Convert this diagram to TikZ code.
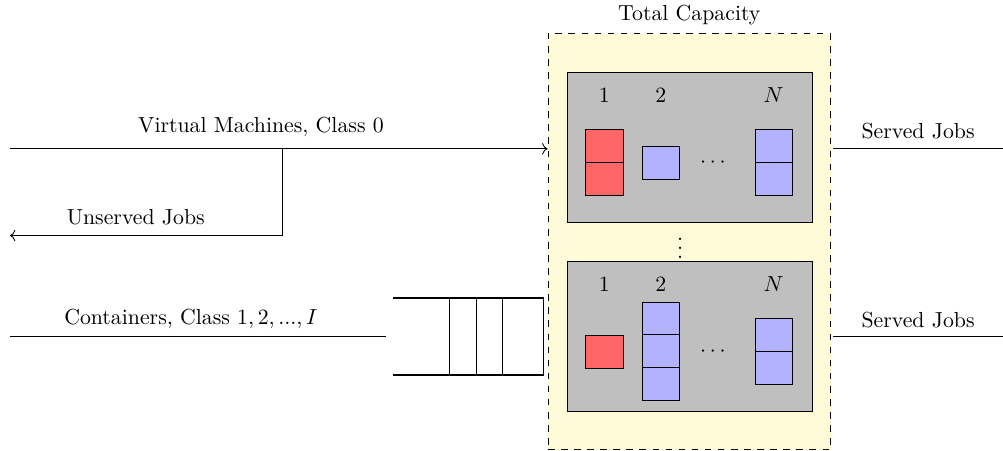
\documentclass[tikz,border=0pt]{standalone}
\usetikzlibrary{arrows.meta, positioning, calc}
\definecolor{capfill}{RGB}{255,250,215}
\tikzset{
  server/.style = {draw, fill=lightgray, minimum width=3.96cm, minimum height=2.42cm,
                   inner sep=0pt},
  rcell/.style  = {draw, fill=red!60, minimum width=0.6cm, minimum height=0.53cm,
                   inner sep=0pt},
  bcell/.style  = {draw, fill=blue!30, minimum width=0.6cm, minimum height=0.53cm,
                   inner sep=0pt},
}

\begin{document}
\begin{tikzpicture}[
    every node/.style={font=\normalsize},
    capbox/.style={draw, dashed, fill=capfill, minimum width=4.56cm,
                   minimum height=6.71cm, inner sep=0pt},
    flow/.style={->},
    queue/.style={thick},
    node distance=-0.4pt
]
\useasboundingbox (0,0) rectangle (16.18,7.27);

% total capacity
\node[capbox] (cap) at (11.12,3.37) {};
\node (tc) at (11.12,7.03) {Total Capacity};

% servers
\node[server] (s1) at (11.13,4.895) {};
\node[server] (s2) at (11.13,1.84) {};
\node[inner sep=0pt] (vd) at (10.97,3.37) {$\vdots$};

% upper server
\node (u1) at (9.75,5.73) {$1$};
\node (u2) at (10.66,5.73) {$2$};
\node (uN) at (12.48,5.73) {$N$};
\node[rcell] (u1a) at (9.75,4.91) {};
\node[rcell, below=of u1a] (u1b) {};
\node[bcell] (u2a) at (10.66,4.645) {};
\node (ud) at (11.5,4.645) {$\cdots$};
\node[bcell] (uNa) at (12.48,4.91) {};
\node[bcell, below=of uNa] (uNb) {};

% lower server
\node (l1) at (9.75,2.68) {$1$};
\node (l2) at (10.66,2.68) {$2$};
\node (lN) at (12.48,2.68) {$N$};
\node[rcell] (l1a) at (9.75,1.597) {};
\node[bcell] (l2a) at (10.66,2.134) {};
\node[bcell, below=of l2a] (l2b) {};
\node[bcell, below=of l2b] (l2c) {};
\node (ld) at (11.5,1.6) {$\cdots$};
\node[bcell] (lNa) at (12.48,1.863) {};
\node[bcell, below=of lNa] (lNb) {};

% class 0 arrivals
\coordinate (vin) at (0.16,4.87);
\coordinate (split) at (4.55,4.87);
\coordinate (unsrv) at (0.16,3.47);
\draw[flow] (vin) -- (vin -| cap.west);
\draw[flow] (split) |- (unsrv);
\node (vmlbl) at (4.21,5.22) {Virtual Machines, Class 0};
\node (unlbl) at (2.19,3.77) {Unserved Jobs};

% container queue
\node[minimum width=2.42cm, minimum height=1.22cm, inner sep=0pt] (q) at (7.55,1.84) {};
\draw[queue] (q.north west) -- (q.north east) -- (q.south east) -- (q.south west);
\foreach \d in {0.66,1.08,1.52} {
    \draw ([xshift=-\d cm]q.north east) -- ([xshift=-\d cm]q.south east);
}
\coordinate (cin) at (0.16,1.84);
\draw[shorten >=1mm] (cin) -- (q.west);
\node (ctlbl) at (3.08,2.13) {Containers, Class $1,2,...,I$};

% departures
\coordinate (out1) at (16.18,4.87);
\coordinate (out2) at (16.18,1.84);
\draw[shorten <=1pt] (out1 -| cap.east) -- (out1);
\draw[shorten <=1pt] (out2 -| cap.east) -- (out2);
\node (sv1) at (14.81,5.16) {Served Jobs};
\node (sv2) at (14.81,2.11) {Served Jobs};

\end{tikzpicture}
\end{document}
